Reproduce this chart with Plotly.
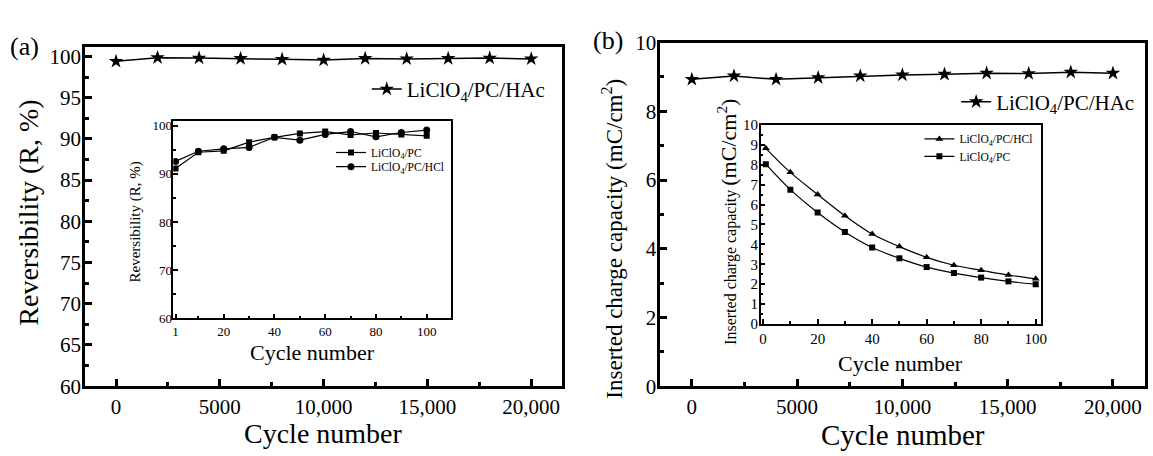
import plotly.graph_objects as go

W, H = 1153, 456
FONT = "Liberation Serif, Times New Roman, serif"

# ---------------- data ----------------
cycles_main = [0, 2000, 4000, 6000, 8000, 10000, 12000, 14000, 16000, 18000, 20000]
rev_hac = [99.4, 99.85, 99.8, 99.75, 99.65, 99.55, 99.75, 99.7, 99.75, 99.8, 99.7]
charge_hac = [8.93, 9.03, 8.93, 8.98, 9.03, 9.06, 9.08, 9.11, 9.10, 9.14, 9.11]

cycles_inset = [1, 10, 20, 30, 40, 50, 60, 70, 80, 90, 100]
rev_pc = [91.1, 94.5, 94.8, 96.6, 97.6, 98.4, 98.8, 98.1, 98.5, 98.2, 97.9]
rev_hcl = [92.6, 94.7, 95.2, 95.5, 97.6, 97.0, 98.2, 98.8, 97.7, 98.6, 99.1]
charge_hcl = [8.83, 7.62, 6.51, 5.44, 4.52, 3.89, 3.35, 2.95, 2.70, 2.46, 2.27]
charge_pc = [8.03, 6.75, 5.60, 4.62, 3.84, 3.30, 2.86, 2.56, 2.33, 2.14, 2.00]

main_xtickvals = [0, 5000, 10000, 15000, 20000]
main_xticktext = ["0", "5000", "10,000", "15,000", "20,000"]
inset_a_xtickvals = [1, 20, 40, 60, 80, 100]

name_hac = "LiClO<sub>4</sub>/PC/HAc"
name_pc = "LiClO<sub>4</sub>/PC"
name_hcl = "LiClO<sub>4</sub>/PC/HCl"


def px(x):
    return x / W


def py(y):
    return 1 - y / H


fig = go.Figure()

# panel (a) main
fig.add_trace(go.Scatter(x=cycles_main, y=rev_hac, name=name_hac, mode="lines+markers",
                         line=dict(color="black", width=1.5),
                         marker=dict(symbol="star", size=11, color="black"),
                         xaxis="x", yaxis="y", legend="legend", showlegend=True))
# panel (a) inset
fig.add_trace(go.Scatter(x=cycles_inset, y=rev_pc, name=name_pc, mode="lines+markers",
                         line=dict(color="black", width=1.2),
                         marker=dict(symbol="square", size=6, color="black"),
                         xaxis="x2", yaxis="y2", legend="legend2", showlegend=True))
fig.add_trace(go.Scatter(x=cycles_inset, y=rev_hcl, name=name_hcl, mode="lines+markers",
                         line=dict(color="black", width=1.2),
                         marker=dict(symbol="circle", size=7, color="black"),
                         xaxis="x2", yaxis="y2", legend="legend3", showlegend=True))
# panel (b) main
fig.add_trace(go.Scatter(x=cycles_main, y=charge_hac, name=name_hac, mode="lines+markers",
                         line=dict(color="black", width=1.5),
                         marker=dict(symbol="star", size=11, color="black"),
                         xaxis="x3", yaxis="y3", legend="legend4", showlegend=True))
# panel (b) inset
fig.add_trace(go.Scatter(x=cycles_inset, y=charge_hcl, name=name_hcl, mode="lines+markers",
                         line=dict(color="black", width=1.2, shape="spline"),
                         marker=dict(symbol="triangle-up", size=7, color="black"),
                         xaxis="x4", yaxis="y4", legend="legend5", showlegend=True))
fig.add_trace(go.Scatter(x=cycles_inset, y=charge_pc, name=name_pc, mode="lines+markers",
                         line=dict(color="black", width=1.2, shape="spline"),
                         marker=dict(symbol="square", size=6, color="black"),
                         xaxis="x4", yaxis="y4", legend="legend6", showlegend=True))


def axis(domain, rng, anchor, lw, tlen, fsize, minor=None, **kw):
    d = dict(domain=domain, range=rng, anchor=anchor, showline=True, linecolor="black",
             linewidth=lw, mirror=True, ticks="inside", ticklen=tlen, tickwidth=lw,
             tickcolor="black", showgrid=False, zeroline=False,
             tickfont=dict(family=FONT, size=fsize, color="black"))
    if minor is not None:
        d["minor"] = dict(ticks="inside", ticklen=tlen * 0.6, tickwidth=lw,
                          tickcolor="black", showgrid=False, **minor)
    d.update(kw)
    return d


# domains (pixel -> paper)
a_main_x = [px(84.4), px(564.8)]
a_main_y = [py(395), py(37.3)]
a_in_x = [px(173.3), px(452.3)]
a_in_y = [py(323.3), py(115)]
b_main_x = [px(663.3), px(1150.5)]
b_main_y = [py(395), py(32.3)]
b_in_x = [px(764.3), px(1046.5)]
b_in_y = [py(329.3), py(119.3)]

fig.update_layout(
    width=W, height=H, margin=dict(l=0, r=0, t=0, b=0),
    paper_bgcolor="white", plot_bgcolor="rgba(0,0,0,0)",
    font=dict(family=FONT, color="black"),
    showlegend=True,
    xaxis=axis(a_main_x, [-1500, 21500], "y", 2.5, 7, 21,
               minor=dict(dtick=2500, tick0=0),
               tickmode="array", tickvals=main_xtickvals, ticktext=main_xticktext),
    yaxis=axis(a_main_y, [60, 101.1], "x", 2.5, 7, 21,
               minor=dict(dtick=2.5, tick0=60), dtick=5, tick0=60, ticklabelstandoff=-3),
    xaxis2=axis(a_in_x, [0.1, 109.4], "y2", 1.5, 5, 13,
                minor=dict(dtick=10, tick0=0),
                tickmode="array", tickvals=inset_a_xtickvals),
    yaxis2=axis(a_in_y, [60, 101], "x2", 1.5, 5, 13,
                minor=dict(dtick=5, tick0=60), dtick=10, tick0=60, ticklabelstandoff=-3),
    xaxis3=axis(b_main_x, [-1500, 21500], "y3", 2.5, 7, 21,
                minor=dict(dtick=2500, tick0=0),
                tickmode="array", tickvals=main_xtickvals, ticktext=main_xticktext),
    yaxis3=axis(b_main_y, [0, 10], "x3", 2.5, 7, 21,
                minor=dict(dtick=1, tick0=0), dtick=2, tick0=0, ticklabelstandoff=-3),
    xaxis4=axis(b_in_x, [-0.9, 102], "y4", 1.5, 5, 15,
                minor=dict(dtick=10, tick0=0), dtick=20, tick0=0),
    yaxis4=axis(b_in_y, [0, 10], "x4", 1.5, 5, 15,
                minor=dict(dtick=0.5, tick0=0), dtick=1, tick0=0, ticklabelstandoff=-2),
)

leg_common = dict(bgcolor="rgba(0,0,0,0)", borderwidth=0, xanchor="left", yanchor="middle",
                  itemwidth=30, tracegroupgap=0, visible=True)
fig.update_layout(
    legend=dict(x=px(368), y=py(81.7), font=dict(family=FONT, size=21, color="black"), **leg_common),
    legend2=dict(x=px(332), y=py(148.3), font=dict(family=FONT, size=11.5, color="black"), **leg_common),
    legend3=dict(x=px(332), y=py(163.3), font=dict(family=FONT, size=11.5, color="black"), **leg_common),
    legend4=dict(x=px(961), y=py(95), font=dict(family=FONT, size=21, color="black"), **leg_common),
    legend5=dict(x=px(924), y=py(134), font=dict(family=FONT, size=11.5, color="black"), **leg_common),
    legend6=dict(x=px(924), y=py(152.3), font=dict(family=FONT, size=11.5, color="black"), **leg_common),
)


def ann(text, x, y, size, angle=0):
    fig.add_annotation(text=text, x=px(x), y=py(y), xref="paper", yref="paper",
                       showarrow=False, textangle=angle, xanchor="center", yanchor="middle",
                       font=dict(family=FONT, size=size, color="black"))


# panel labels
ann("(a)", 24, 36, 26)
ann("(b)", 611, 30, 26)
# axis titles - panel (a)
ann("Reversibility (R, %)", 28, 212, 28, -90)
ann("Cycle number", 324, 445, 28)
ann("Reversibility (R, %)", 135, 222, 15, -90)
ann("Cycle number", 313, 359, 22)
# axis titles - panel (b)
ann("Inserted charge capacity (mC/cm<sup>2</sup>)", 615, 239, 23, -90)
ann("Cycle number", 908, 447, 29)
ann("Inserted charge capacity <span style='font-size:22px'>(mC/cm<sup>2</sup>)</span>", 731, 222, 16, -90)
ann("Cycle number", 905, 371, 22)

fig.write_html("out.html")
